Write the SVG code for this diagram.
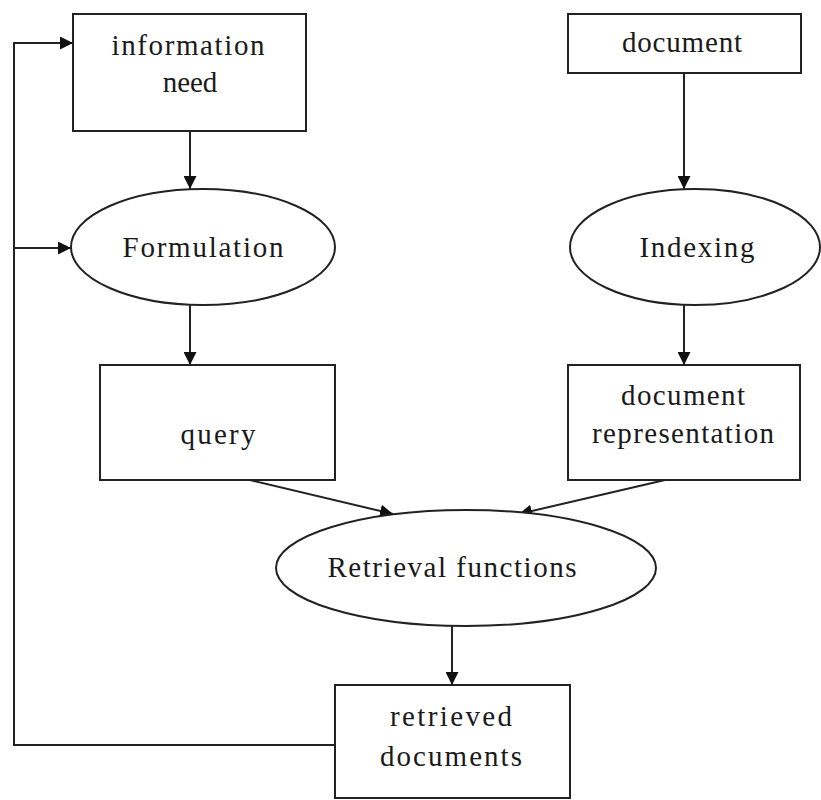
<svg xmlns="http://www.w3.org/2000/svg" width="821" height="800" viewBox="0 0 821 800">
<style>
.shape{fill:#fff;stroke:#222;stroke-width:2}
.edge{fill:none;stroke:#222;stroke-width:2}
text{font-family:"Liberation Serif","Times New Roman",serif;font-size:29px;fill:#1a1a1a;text-anchor:middle}
</style>
<defs>
<marker id="arr" viewBox="0 0 12 12" refX="12" refY="6" markerWidth="13" markerHeight="13" markerUnits="userSpaceOnUse" orient="auto">
<path d="M0,0 L12,6 L0,12 z" fill="#111"/>
</marker>
</defs>
<rect width="821" height="800" fill="#fff"/>
<g id="connectors">
<line class="edge" x1="190" y1="131" x2="190" y2="189" marker-end="url(#arr)"/>
<line class="edge" x1="684" y1="73" x2="684" y2="189" marker-end="url(#arr)"/>
<line class="edge" x1="190" y1="305" x2="190" y2="365" marker-end="url(#arr)"/>
<line class="edge" x1="684" y1="305" x2="684" y2="365" marker-end="url(#arr)"/>
<line class="edge" x1="250" y1="480" x2="393" y2="514" marker-end="url(#arr)"/>
<line class="edge" x1="665" y1="480" x2="519" y2="514" marker-end="url(#arr)"/>
<line class="edge" x1="452" y1="626" x2="452" y2="685" marker-end="url(#arr)"/>
<polyline class="edge" points="335,745 14,745 14,43 73,43" marker-end="url(#arr)"/>
<line class="edge" x1="14" y1="248" x2="71" y2="248" marker-end="url(#arr)"/>
</g>
<g id="information-need">
<rect class="shape" x="73" y="14" width="233" height="117"/>
<text x="188" y="55" textLength="153" lengthAdjust="spacing">information</text>
<text x="190" y="92">need</text>
</g>
<g id="document">
<rect class="shape" x="568" y="14" width="233" height="59"/>
<text x="682" y="52" textLength="120" lengthAdjust="spacing">document</text>
</g>
<g id="formulation">
<ellipse class="shape" cx="203" cy="247" rx="132" ry="58"/>
<text x="203" y="257" textLength="161" lengthAdjust="spacing">Formulation</text>
</g>
<g id="indexing">
<ellipse class="shape" cx="695" cy="247" rx="125" ry="58"/>
<text x="697" y="257" textLength="115" lengthAdjust="spacing">Indexing</text>
</g>
<g id="query">
<rect class="shape" x="100" y="365" width="235" height="115"/>
<text x="218" y="444" textLength="75" lengthAdjust="spacing">query</text>
</g>
<g id="document-representation">
<rect class="shape" x="568" y="365" width="232" height="115"/>
<text x="683" y="405" textLength="124" lengthAdjust="spacing">document</text>
<text x="683" y="443" textLength="182" lengthAdjust="spacing">representation</text>
</g>
<g id="retrieval-functions">
<ellipse class="shape" cx="466" cy="568" rx="190" ry="58"/>
<text x="452" y="577" textLength="249" lengthAdjust="spacing">Retrieval functions</text>
</g>
<g id="retrieved-documents">
<rect class="shape" x="335" y="685" width="235" height="113"/>
<text x="451" y="726" textLength="122" lengthAdjust="spacing">retrieved</text>
<text x="451" y="766" textLength="142" lengthAdjust="spacing">documents</text>
</g>
</svg>
